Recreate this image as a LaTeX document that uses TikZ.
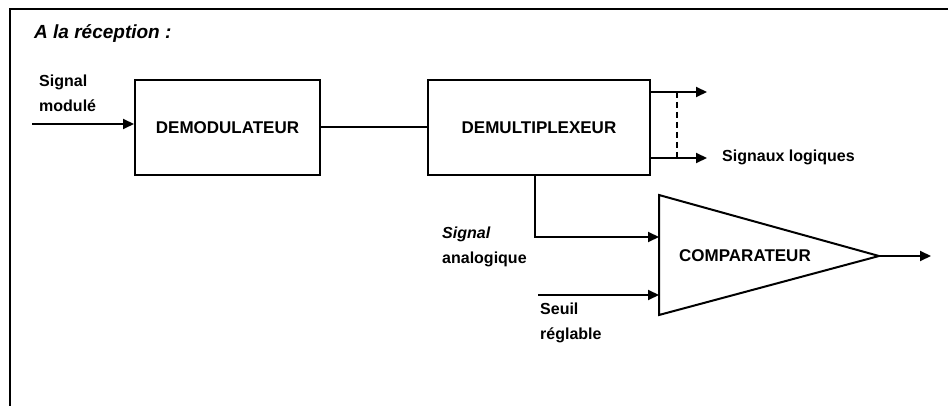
\documentclass[tikz,border=0pt]{standalone}
\usepackage{fontspec}
\setmainfont{Liberation Sans}
\usetikzlibrary{arrows.meta,positioning}

\tikzset{
  bloc/.style={draw,line width=2pt,minimum width=#1,minimum height=95pt,inner sep=0pt,
    font=\bfseries\fontsize{17}{20}\selectfont},
  lab/.style={align=left,anchor=north west,inner sep=0pt,
    font=\bfseries\fontsize{16}{24.5}\selectfont},
  liaison/.style={line width=2pt},
}

\begin{document}
\begin{tikzpicture}[x=1pt,y=-1pt,>={Triangle[length=11pt,width=10pt]}]
    \useasboundingbox (0,0) rectangle (948,406);
    % Frame
    \draw[line width=2.8pt] (10,406) -- (10,9) -- (948,9);
    \node[lab,anchor=west,font=\bfseries\itshape\fontsize{19}{22}\selectfont] (titre) at (34,34) {A la réception :};

    % Blocks
    \node[bloc=185pt] (demod) at (227.5,127.5) {DEMODULATEUR};
    \node[bloc=222pt] (demux) at (539,127.5) {DEMULTIPLEXEUR};

    % Comparator
    \coordinate (cmpA) at (659,195);
    \coordinate (cmpB) at (659,315);
    \coordinate (cmpC) at (879,256);
    \draw[liaison,line join=miter] (cmpA) -- (cmpC) -- (cmpB) -- cycle;
    \node[font=\bfseries\fontsize{17}{20}\selectfont] (comp) at (745,256) {COMPARATEUR};

    % Links
    \coordinate (entree) at (32,124);
    \draw[liaison,->] (entree) -- (entree -| demod.west);
    \draw[liaison] (demod.east) -- (demux.west);
    \coordinate (sort1) at (707,92);
    \coordinate (sort2) at (707,158);
    \draw[liaison,->] (demux.east |- sort1) -- (sort1);
    \draw[liaison,->] (demux.east |- sort2) -- (sort2);
    \draw[liaison,dash pattern=on 6pt off 4pt] (677,92) -- (677,158);
    \coordinate (ana) at (cmpA |- 0,237);
    \draw[liaison,->] (demux.south -| 535,0) |- (ana);
    \coordinate (seuil) at (538,295);
    \draw[liaison,->] (seuil) -- (seuil -| cmpA);
    \coordinate (sortie) at (931,256);
    \draw[liaison,->] (cmpC) -- (sortie);

    % Labels
    \node[lab] (modul) at (39,75) {Signal\\modulé};
    \node[lab,anchor=west] (logiques) at (722,157) {Signaux logiques};
    \node[lab] (analog) at (442,227) {\textit{Signal}\\analogique};
    \node[lab] (regl) at (540,303) {Seuil\\réglable};
\end{tikzpicture}
\end{document}
